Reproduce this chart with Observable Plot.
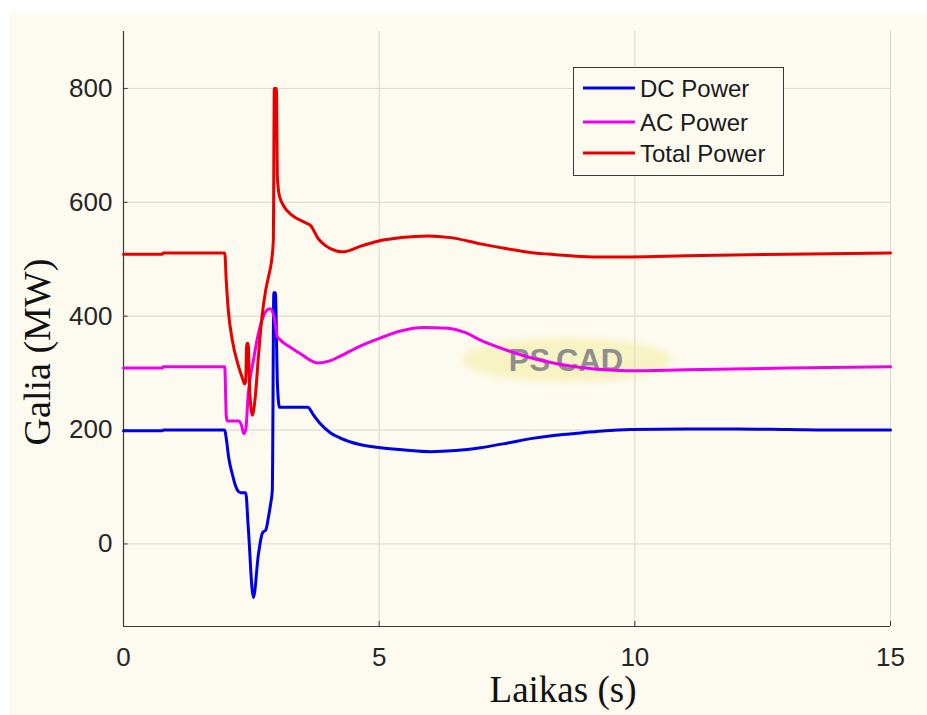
<!DOCTYPE html>
<html>
<head>
<meta charset="utf-8">
<script src="https://cdn.jsdelivr.net/npm/d3@7"></script>
<script src="https://cdn.jsdelivr.net/npm/@observablehq/plot@0.6"></script>
<style>
  html, body { margin: 0; padding: 0; background: #ffffff; }
  #wrap { position: relative; width: 927px; height: 715px; overflow: hidden; }
  #bg { position: absolute; left: 9px; top: 13px; right: 0; bottom: 0; background: #fdfaef; }
  #over, #under { position: absolute; left: 0; top: 0; }
  #chart { position: absolute; left: 0; top: 0; }
</style>
</head>
<body>
<div id="wrap">
  <div id="bg"></div>
  <svg id="under" width="927" height="715">
    <defs><filter id="blur"><feGaussianBlur stdDeviation="3"/></filter></defs>
    <ellipse cx="567" cy="360" rx="105" ry="22" fill="#f8f3c2" filter="url(#blur)"/>
    <text x="566" y="371" text-anchor="middle" font-family="Liberation Sans, Arial, sans-serif" font-weight="bold" font-size="31" fill="#8e8e8e">PS<tspan dx="6">CAD</tspan></text>
  </svg>
  <div id="chart"></div>
  <svg id="over" width="927" height="715"></svg>
</div>
<script>
// ---- data ----
const dcTime  = [0, 0.76, 0.78, 1.98, 2.01, 2.06, 2.13, 2.18, 2.23, 2.29, 2.39, 2.44, 2.54, 2.64, 2.72, 2.78, 2.84, 2.88, 2.91, 2.94, 2.97, 3.01, 3.05, 3.3, 3.6, 3.72, 3.85, 4.05, 4.24, 4.6, 5.03, 5.5, 6.0, 6.5, 6.98, 7.5, 7.96, 8.45, 8.94, 9.43, 9.92, 11, 12, 13, 14, 15];
const dcPower = [199, 199, 200, 200, 185, 150, 122, 105, 94, 90, 90, 29, -94, -17, 20, 24, 50, 72, 94, 441, 441, 282, 240, 240, 240, 226, 211, 195, 186, 175, 169, 165, 162, 164, 169, 177, 185, 191, 195, 199, 201, 202, 202, 201, 200, 200];

const acTime  = [0, 0.76, 0.78, 1.98, 2.01, 2.03, 2.25, 2.31, 2.35, 2.39, 2.44, 2.54, 2.62, 2.72, 2.8, 2.87, 2.95, 3.01, 3.07, 3.27, 3.46, 3.79, 4.05, 4.24, 4.64, 5.03, 5.42, 5.87, 6.34, 6.69, 6.98, 7.47, 7.96, 8.45, 8.94, 9.43, 9.92, 11, 13, 15];
const acPower = [309, 309, 311, 311, 225, 216, 216, 208, 194, 200, 264, 322, 362, 396, 410, 413, 396, 364, 358, 345, 334, 318, 322, 330, 348, 362, 374, 380, 379, 371, 358, 341, 327, 317, 310, 306, 304, 306, 309, 311];

const totalTime  = [0, 0.76, 0.78, 1.98, 2.01, 2.05, 2.13, 2.23, 2.33, 2.37, 2.39, 2.41, 2.44, 2.46, 2.52, 2.58, 2.64, 2.7, 2.78, 2.84, 2.89, 2.93, 2.95, 2.99, 3.01, 3.05, 3.13, 3.3, 3.56, 3.66, 3.81, 3.95, 4.15, 4.28, 4.64, 5.03, 5.42, 5.95, 6.4, 6.98, 7.47, 7.96, 8.45, 8.94, 9.43, 9.92, 11, 13, 15];
const totalPower = [509, 509, 511, 511, 462, 410, 357, 318, 290, 281, 287, 352, 352, 287, 226, 261, 331, 392, 445, 471, 494, 532, 800, 800, 643, 611, 594, 577, 564, 559, 536, 524, 515, 513, 523, 533, 538, 541, 538, 527, 519, 512, 508, 505, 504, 504, 506, 509, 511];

const seriesNames  = ["DC Power", "AC Power", "Total Power"];
const seriesColors = ["#0000e6", "#ee00ee", "#e60000"];
const xTicks = [0, 5, 10, 15];
const yTicks = [0, 200, 400, 600, 800];
const xDomain = [0, 15];
const yDomain = [-145, 900];
const xLabel = "Laikas (s)";
const yLabel = "Galia (MW)";

// ---- build table ----
const rows = [];
[[dcTime, dcPower], [acTime, acPower], [totalTime, totalPower]].forEach(([ts, vs], i) => {
  ts.forEach((t, j) => rows.push({t, v: vs[j], s: seriesNames[i]}));
});

const font = "Liberation Sans, Arial, sans-serif";
const chart = Plot.plot({
  width: 927,
  height: 715,
  marginLeft: 123,
  marginRight: 37,
  marginTop: 31,
  marginBottom: 89,
  style: {background: "transparent", fontFamily: font, color: "#262626", overflow: "visible"},
  x: {domain: xDomain},
  y: {domain: yDomain},
  color: {domain: seriesNames, range: seriesColors},
  marks: [
    Plot.gridX(xTicks, {stroke: "#d9d7cf", strokeOpacity: 1, strokeWidth: 1}),
    Plot.gridY(yTicks, {stroke: "#d9d7cf", strokeOpacity: 1, strokeWidth: 1}),
    Plot.ruleX([xDomain[0]], {stroke: "#3a3a3a", strokeWidth: 1.2}),
    Plot.ruleY([yDomain[0]], {stroke: "#3a3a3a", strokeWidth: 1.2}),
    Plot.ruleY(yTicks, {x1: xDomain[0], x2: 0.09, stroke: "#3a3a3a"}),
    Plot.ruleX(xTicks, {y1: yDomain[0], y2: yDomain[0] + 9, stroke: "#3a3a3a"}),
    Plot.line(rows, {x: "t", y: "v", z: "s", stroke: "s", strokeWidth: 3, curve: "monotone-x", strokeLinejoin: "round", strokeLinecap: "round"}),
    Plot.axisY(yTicks, {tickSize: 0, tickPadding: 11, fontSize: 26, label: null, fill: "#262626"}),
    Plot.axisX(xTicks, {tickSize: 0, tickPadding: 21, fontSize: 26, label: null, fill: "#262626"})
  ]
});
document.getElementById("chart").appendChild(chart);

// ---- titles and legend ----
const over = d3.select("#over");
over.append("text")
  .attr("x", 563).attr("y", 702)
  .attr("text-anchor", "middle")
  .attr("font-family", "Liberation Serif, Times New Roman, serif")
  .attr("font-size", 37).attr("fill", "#111")
  .text(xLabel);
over.append("text")
  .attr("transform", "translate(50,352) rotate(-90)")
  .attr("text-anchor", "middle")
  .attr("font-family", "Liberation Serif, Times New Roman, serif")
  .attr("font-size", 38).attr("fill", "#111")
  .text(yLabel);

const lg = over.append("g");
lg.append("rect").attr("x", 573.5).attr("y", 67.5).attr("width", 210).attr("height", 108)
  .attr("fill", "#fdfaef").attr("stroke", "#3a3a3a").attr("stroke-width", 1);
seriesNames.forEach((name, i) => {
  const cy = [88, 122, 153][i];
  lg.append("line").attr("x1", 583).attr("x2", 635).attr("y1", cy).attr("y2", cy)
    .attr("stroke", seriesColors[i]).attr("stroke-width", 3);
  lg.append("text").attr("x", 640).attr("y", cy + 8.5)
    .attr("font-family", font).attr("font-size", 24).attr("fill", "#1a1a1a")
    .text(name);
});
</script>
</body>
</html>
